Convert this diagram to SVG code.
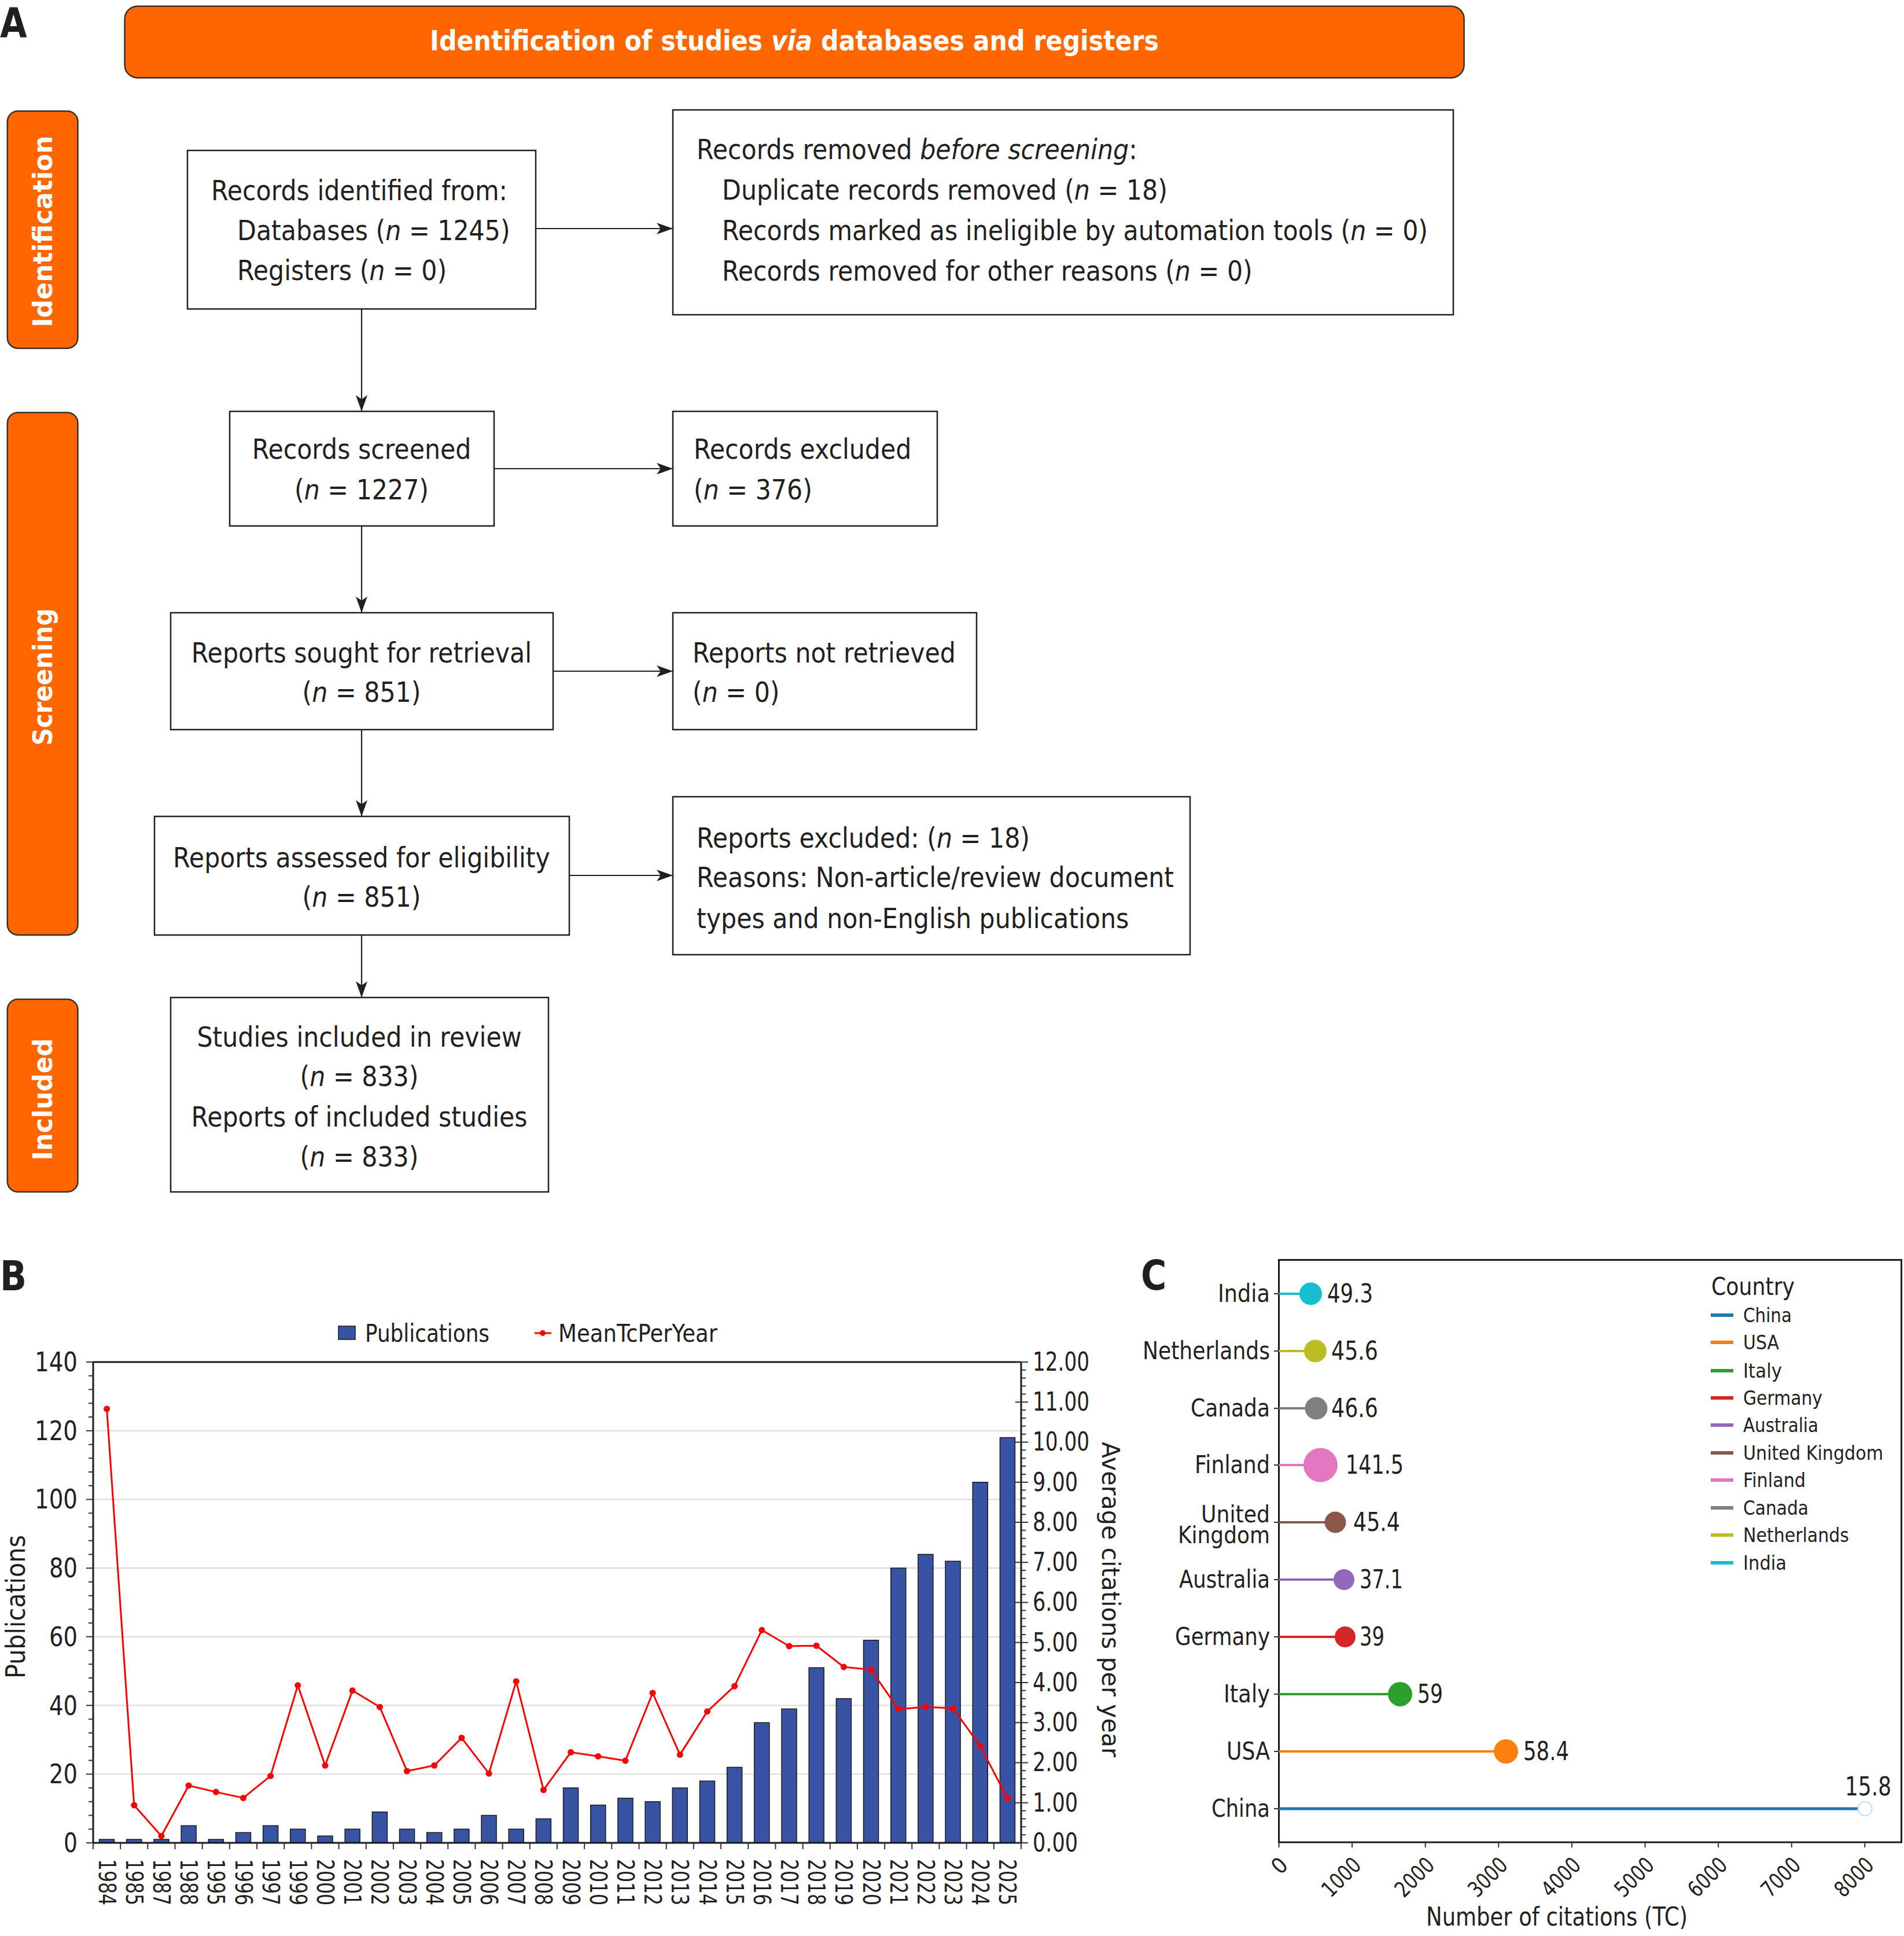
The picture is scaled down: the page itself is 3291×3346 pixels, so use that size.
<svg xmlns="http://www.w3.org/2000/svg" width="3291" height="3346" viewBox="0 0 3291 3346">
<defs>
<style>
.ft{font-family:"DejaVu Sans",Verdana,sans-serif;font-size:48px;fill:#231f20}
.it{font-style:italic}
.hdr{font-family:"DejaVu Sans",Verdana,sans-serif;font-size:48px;font-weight:bold;fill:#fff}
.side{font-family:"DejaVu Sans",Verdana,sans-serif;font-size:46px;font-weight:bold;fill:#fff}
.box{fill:#fff;stroke:#231f20;stroke-width:2.5}
.orange{fill:#ff6600;stroke:#3a2f2a;stroke-width:2.5}
.conn{stroke:#231f20;stroke-width:2.2;fill:none;marker-end:url(#ah)}
.lbl{font-family:"DejaVu Sans",Verdana,sans-serif;font-weight:bold;fill:#231f20;font-size:72px}
.ct{font-family:"DejaVu Sans",Verdana,sans-serif;fill:#231f20}
.bar{fill:#3953a4;stroke:#1a1a1a;stroke-width:1.5}
.grid{stroke:#d9d9d9;stroke-width:2}
.ax{stroke:#1a1a1a;stroke-width:3;fill:none}
.tk{stroke:#333;stroke-width:2;fill:none}
.dot{fill:#ff0000}
</style>
<marker id="ah" markerWidth="28" markerHeight="20" refX="28" refY="10" orient="auto" markerUnits="userSpaceOnUse"><path d="M0,0 L28,10 L0,20 L7,10 z" fill="#231f20"/></marker>
</defs>
<rect width="3291" height="3346" fill="#fff"/>

<!-- Panel A -->
<text class="lbl" transform="translate(0,64) scale(.84,1)">A</text>
<g id="header">
<rect class="orange" x="215.6" y="10.7" width="2315" height="123.7" rx="22"/>
<text class="hdr" text-anchor="middle" transform="translate(1373,87) scale(.89,1)">Identification of studies <tspan class="it">via</tspan> databases and registers</text>
</g>
<g id="side-identification">
<rect class="orange" x="12.8" y="192" width="121.7" height="410" rx="18"/>
<text class="side" text-anchor="middle" transform="translate(90,400) rotate(-90)" textLength="331" lengthAdjust="spacingAndGlyphs">Identification</text>
</g>
<g id="side-screening">
<rect class="orange" x="12.8" y="713" width="121.7" height="903" rx="18"/>
<text class="side" text-anchor="middle" transform="translate(90,1170) rotate(-90)" textLength="237" lengthAdjust="spacingAndGlyphs">Screening</text>
</g>
<g id="side-included">
<rect class="orange" x="12.8" y="1727" width="121.7" height="333" rx="18"/>
<text class="side" text-anchor="middle" transform="translate(90,1900) rotate(-90)" textLength="211" lengthAdjust="spacingAndGlyphs">Included</text>
</g>

<g id="records-identified">
<rect class="box" x="324" y="260" width="602" height="274"/>
<text class="ft" transform="translate(365,346) scale(.89,1)">Records identified from:</text>
<text class="ft" transform="translate(410,415) scale(.89,1)">Databases (<tspan class="it">n</tspan> = 1245)</text>
<text class="ft" transform="translate(410,484) scale(.89,1)">Registers (<tspan class="it">n</tspan> = 0)</text>
</g>
<g id="records-removed">
<rect class="box" x="1163" y="190" width="1349" height="354"/>
<text class="ft" transform="translate(1204,275) scale(.89,1)">Records removed <tspan class="it">before screening</tspan>:</text>
<text class="ft" transform="translate(1248,345) scale(.89,1)">Duplicate records removed (<tspan class="it">n</tspan> = 18)</text>
<text class="ft" transform="translate(1248,415) scale(.89,1)">Records marked as ineligible by automation tools (<tspan class="it">n</tspan> = 0)</text>
<text class="ft" transform="translate(1248,485) scale(.89,1)">Records removed for other reasons (<tspan class="it">n</tspan> = 0)</text>
</g>
<g id="records-screened">
<rect class="box" x="397" y="711" width="457" height="198"/>
<text class="ft" text-anchor="middle" transform="translate(625,793) scale(.89,1)">Records screened</text>
<text class="ft" text-anchor="middle" transform="translate(625,863) scale(.89,1)">(<tspan class="it">n</tspan> = 1227)</text>
</g>
<g id="records-excluded">
<rect class="box" x="1163" y="711" width="457" height="198"/>
<text class="ft" transform="translate(1199,793) scale(.89,1)">Records excluded</text>
<text class="ft" transform="translate(1199,863) scale(.89,1)">(<tspan class="it">n</tspan> = 376)</text>
</g>
<g id="reports-sought">
<rect class="box" x="295" y="1059" width="661" height="202"/>
<text class="ft" text-anchor="middle" transform="translate(625,1145) scale(.89,1)">Reports sought for retrieval</text>
<text class="ft" text-anchor="middle" transform="translate(625,1213) scale(.89,1)">(<tspan class="it">n</tspan> = 851)</text>
</g>
<g id="reports-not-retrieved">
<rect class="box" x="1163" y="1059" width="525" height="202"/>
<text class="ft" transform="translate(1197,1145) scale(.89,1)">Reports not retrieved</text>
<text class="ft" transform="translate(1197,1213) scale(.89,1)">(<tspan class="it">n</tspan> = 0)</text>
</g>
<g id="reports-assessed">
<rect class="box" x="267" y="1411" width="717" height="205"/>
<text class="ft" text-anchor="middle" transform="translate(625,1499) scale(.89,1)">Reports assessed for eligibility</text>
<text class="ft" text-anchor="middle" transform="translate(625,1567) scale(.89,1)">(<tspan class="it">n</tspan> = 851)</text>
</g>
<g id="reports-excluded">
<rect class="box" x="1163" y="1377" width="894" height="273"/>
<text class="ft" transform="translate(1204,1465) scale(.89,1)">Reports excluded: (<tspan class="it">n</tspan> = 18)</text>
<text class="ft" transform="translate(1204,1533) scale(.89,1)">Reasons: Non-article/review document</text>
<text class="ft" transform="translate(1204,1604) scale(.89,1)">types and non-English publications</text>
</g>
<g id="studies-included">
<rect class="box" x="295" y="1724" width="653" height="336"/>
<text class="ft" text-anchor="middle" transform="translate(621,1809) scale(.89,1)">Studies included in review</text>
<text class="ft" text-anchor="middle" transform="translate(621,1877) scale(.89,1)">(<tspan class="it">n</tspan> = 833)</text>
<text class="ft" text-anchor="middle" transform="translate(621,1947) scale(.89,1)">Reports of included studies</text>
<text class="ft" text-anchor="middle" transform="translate(621,2016) scale(.89,1)">(<tspan class="it">n</tspan> = 833)</text>
</g>
<g id="connectors">
<line class="conn" x1="625" y1="534" x2="625" y2="711"/>
<line class="conn" x1="625" y1="909" x2="625" y2="1059"/>
<line class="conn" x1="625" y1="1261" x2="625" y2="1411"/>
<line class="conn" x1="625" y1="1616" x2="625" y2="1724"/>
<line class="conn" x1="926" y1="395" x2="1163" y2="395"/>
<line class="conn" x1="854" y1="810" x2="1163" y2="810"/>
<line class="conn" x1="956" y1="1160" x2="1163" y2="1160"/>
<line class="conn" x1="984" y1="1513" x2="1163" y2="1513"/>
</g>

<!-- Panel B -->
<g id="panel-b">
<text class="lbl" transform="translate(0,2230) scale(.84,1)">B</text>
<g id="legend-b">
<rect class="bar" x="585" y="2292" width="29" height="23"/>
<text class="ct" font-size="42" x="631" y="2319" textLength="215" lengthAdjust="spacingAndGlyphs">Publications</text>
<line x1="924" y1="2304" x2="953" y2="2304" stroke="#ff0000" stroke-width="3"/>
<circle class="dot" cx="938" cy="2304" r="5"/>
<text class="ct" font-size="42" x="965" y="2319" textLength="275" lengthAdjust="spacingAndGlyphs">MeanTcPerYear</text>
</g>
<g id="grid-b">
<line class="grid" x1="161" y1="3066.3" x2="1765" y2="3066.3"/>
<line class="grid" x1="161" y1="2947.6" x2="1765" y2="2947.6"/>
<line class="grid" x1="161" y1="2828.9" x2="1765" y2="2828.9"/>
<line class="grid" x1="161" y1="2710.1" x2="1765" y2="2710.1"/>
<line class="grid" x1="161" y1="2591.4" x2="1765" y2="2591.4"/>
<line class="grid" x1="161" y1="2472.7" x2="1765" y2="2472.7"/>
</g>
<g id="bars">
<rect class="bar" x="171.59" y="3179.06" width="26" height="5.94"/>
<rect class="bar" x="218.76" y="3179.06" width="26" height="5.94"/>
<rect class="bar" x="265.94" y="3179.06" width="26" height="5.94"/>
<rect class="bar" x="313.12" y="3155.32" width="26" height="29.68"/>
<rect class="bar" x="360.29" y="3179.06" width="26" height="5.94"/>
<rect class="bar" x="407.47" y="3167.19" width="26" height="17.81"/>
<rect class="bar" x="454.65" y="3155.32" width="26" height="29.68"/>
<rect class="bar" x="501.82" y="3161.26" width="26" height="23.74"/>
<rect class="bar" x="549.00" y="3173.13" width="26" height="11.87"/>
<rect class="bar" x="596.18" y="3161.26" width="26" height="23.74"/>
<rect class="bar" x="643.35" y="3131.58" width="26" height="53.42"/>
<rect class="bar" x="690.53" y="3161.26" width="26" height="23.74"/>
<rect class="bar" x="737.71" y="3167.19" width="26" height="17.81"/>
<rect class="bar" x="784.88" y="3161.26" width="26" height="23.74"/>
<rect class="bar" x="832.06" y="3137.51" width="26" height="47.49"/>
<rect class="bar" x="879.24" y="3161.26" width="26" height="23.74"/>
<rect class="bar" x="926.41" y="3143.45" width="26" height="41.55"/>
<rect class="bar" x="973.59" y="3090.03" width="26" height="94.97"/>
<rect class="bar" x="1020.76" y="3119.71" width="26" height="65.29"/>
<rect class="bar" x="1067.94" y="3107.84" width="26" height="77.16"/>
<rect class="bar" x="1115.12" y="3113.77" width="26" height="71.23"/>
<rect class="bar" x="1162.29" y="3090.03" width="26" height="94.97"/>
<rect class="bar" x="1209.47" y="3078.16" width="26" height="106.84"/>
<rect class="bar" x="1256.65" y="3054.41" width="26" height="130.59"/>
<rect class="bar" x="1303.82" y="2977.25" width="26" height="207.75"/>
<rect class="bar" x="1351.00" y="2953.51" width="26" height="231.49"/>
<rect class="bar" x="1398.18" y="2882.28" width="26" height="302.72"/>
<rect class="bar" x="1445.35" y="2935.70" width="26" height="249.30"/>
<rect class="bar" x="1492.53" y="2834.79" width="26" height="350.21"/>
<rect class="bar" x="1539.71" y="2710.14" width="26" height="474.86"/>
<rect class="bar" x="1586.88" y="2686.40" width="26" height="498.60"/>
<rect class="bar" x="1634.06" y="2698.27" width="26" height="486.73"/>
<rect class="bar" x="1681.24" y="2561.75" width="26" height="623.25"/>
<rect class="bar" x="1728.41" y="2484.59" width="26" height="700.41"/>
</g>
<g id="mean-line">
<polyline fill="none" stroke="#ff0000" stroke-width="3" stroke-linejoin="round" points="184.6,2435.0 231.8,3119.9 278.9,3173.2 326.1,3086.0 373.3,3097.1 420.5,3107.4 467.6,3069.4 514.8,2912.8 562.0,3051.3 609.2,2921.8 656.4,2950.2 703.5,3061.0 750.7,3051.3 797.9,3003.6 845.1,3065.2 892.2,2905.9 939.4,3093.6 986.6,3028.5 1033.8,3035.4 1080.9,3043.0 1128.1,2926.0 1175.3,3032.6 1222.5,2957.9 1269.6,2914.2 1316.8,2817.3 1364.0,2845.0 1411.2,2844.3 1458.4,2881.0 1505.5,2885.8 1552.7,2953.7 1599.9,2950.2 1647.1,2952.3 1694.2,3017.4 1741.4,3108.1"/>
<g class="dot">
<circle cx="184.6" cy="2435.0" r="5.5"/><circle cx="231.8" cy="3119.9" r="5.5"/><circle cx="278.9" cy="3173.2" r="5.5"/><circle cx="326.1" cy="3086.0" r="5.5"/><circle cx="373.3" cy="3097.1" r="5.5"/><circle cx="420.5" cy="3107.4" r="5.5"/><circle cx="467.6" cy="3069.4" r="5.5"/><circle cx="514.8" cy="2912.8" r="5.5"/><circle cx="562.0" cy="3051.3" r="5.5"/><circle cx="609.2" cy="2921.8" r="5.5"/><circle cx="656.4" cy="2950.2" r="5.5"/><circle cx="703.5" cy="3061.0" r="5.5"/><circle cx="750.7" cy="3051.3" r="5.5"/><circle cx="797.9" cy="3003.6" r="5.5"/><circle cx="845.1" cy="3065.2" r="5.5"/><circle cx="892.2" cy="2905.9" r="5.5"/><circle cx="939.4" cy="3093.6" r="5.5"/><circle cx="986.6" cy="3028.5" r="5.5"/><circle cx="1033.8" cy="3035.4" r="5.5"/><circle cx="1080.9" cy="3043.0" r="5.5"/><circle cx="1128.1" cy="2926.0" r="5.5"/><circle cx="1175.3" cy="3032.6" r="5.5"/><circle cx="1222.5" cy="2957.9" r="5.5"/><circle cx="1269.6" cy="2914.2" r="5.5"/><circle cx="1316.8" cy="2817.3" r="5.5"/><circle cx="1364.0" cy="2845.0" r="5.5"/><circle cx="1411.2" cy="2844.3" r="5.5"/><circle cx="1458.4" cy="2881.0" r="5.5"/><circle cx="1505.5" cy="2885.8" r="5.5"/><circle cx="1552.7" cy="2953.7" r="5.5"/><circle cx="1599.9" cy="2950.2" r="5.5"/><circle cx="1647.1" cy="2952.3" r="5.5"/><circle cx="1694.2" cy="3017.4" r="5.5"/><circle cx="1741.4" cy="3108.1" r="5.5"/>
</g>
</g>
<g id="axes-b">
<path class="ax" d="M161,2354 H1765 M161,2354 V3185 H1765 M1765,2354 V3185"/>
<path class="tk" d="M149,3185H161M153,3161.26H161M153,3137.51H161M153,3113.77H161M153,3090.03H161M149,3066.29H161M153,3042.54H161M153,3018.8H161M153,2995.06H161M153,2971.31H161M149,2947.57H161M153,2923.83H161M153,2900.09H161M153,2876.34H161M153,2852.6H161M149,2828.86H161M153,2805.11H161M153,2781.37H161M153,2757.63H161M153,2733.89H161M149,2710.14H161M153,2686.4H161M153,2662.66H161M153,2638.91H161M153,2615.17H161M149,2591.43H161M153,2567.69H161M153,2543.94H161M153,2520.2H161M153,2496.46H161M149,2472.71H161M153,2448.97H161M153,2425.23H161M153,2401.49H161M153,2377.74H161M149,2354H161"/>
<path class="tk" d="M1755,3185H1777M1765,3171.15H1773M1765,3157.3H1773M1765,3143.45H1773M1765,3129.6H1773M1755,3115.75H1777M1765,3101.9H1773M1765,3088.05H1773M1765,3074.2H1773M1765,3060.35H1773M1755,3046.5H1777M1765,3032.65H1773M1765,3018.8H1773M1765,3004.95H1773M1765,2991.1H1773M1755,2977.25H1777M1765,2963.4H1773M1765,2949.55H1773M1765,2935.7H1773M1765,2921.85H1773M1755,2908H1777M1765,2894.15H1773M1765,2880.3H1773M1765,2866.45H1773M1765,2852.6H1773M1755,2838.75H1777M1765,2824.9H1773M1765,2811.05H1773M1765,2797.2H1773M1765,2783.35H1773M1755,2769.5H1777M1765,2755.65H1773M1765,2741.8H1773M1765,2727.95H1773M1765,2714.1H1773M1755,2700.25H1777M1765,2686.4H1773M1765,2672.55H1773M1765,2658.7H1773M1765,2644.85H1773M1755,2631H1777M1765,2617.15H1773M1765,2603.3H1773M1765,2589.45H1773M1765,2575.6H1773M1755,2561.75H1777M1765,2547.9H1773M1765,2534.05H1773M1765,2520.2H1773M1765,2506.35H1773M1755,2492.5H1777M1765,2478.65H1773M1765,2464.8H1773M1765,2450.95H1773M1765,2437.1H1773M1755,2423.25H1777M1765,2409.4H1773M1765,2395.55H1773M1765,2381.7H1773M1765,2367.85H1773M1755,2354H1777"/>
<path class="tk" d="M161,3185V3196M208.18,3185V3196M255.35,3185V3196M302.53,3185V3196M349.71,3185V3196M396.88,3185V3196M444.06,3185V3196M491.24,3185V3196M538.41,3185V3196M585.59,3185V3196M632.76,3185V3196M679.94,3185V3196M727.12,3185V3196M774.29,3185V3196M821.47,3185V3196M868.65,3185V3196M915.82,3185V3196M963,3185V3196M1010.18,3185V3196M1057.35,3185V3196M1104.53,3185V3196M1151.71,3185V3196M1198.88,3185V3196M1246.06,3185V3196M1293.24,3185V3196M1340.41,3185V3196M1387.59,3185V3196M1434.76,3185V3196M1481.94,3185V3196M1529.12,3185V3196M1576.29,3185V3196M1623.47,3185V3196M1670.65,3185V3196M1717.82,3185V3196M1765,3185V3196"/>
</g>
<g id="ylabels-left" class="ct" font-size="46" text-anchor="end">
<text x="134" y="3201" textLength="24" lengthAdjust="spacingAndGlyphs">0</text>
<text x="134" y="3082" textLength="49" lengthAdjust="spacingAndGlyphs">20</text>
<text x="134" y="2964" textLength="49" lengthAdjust="spacingAndGlyphs">40</text>
<text x="134" y="2845" textLength="49" lengthAdjust="spacingAndGlyphs">60</text>
<text x="134" y="2726" textLength="49" lengthAdjust="spacingAndGlyphs">80</text>
<text x="134" y="2607" textLength="74" lengthAdjust="spacingAndGlyphs">100</text>
<text x="134" y="2489" textLength="74" lengthAdjust="spacingAndGlyphs">120</text>
<text x="134" y="2370" textLength="74" lengthAdjust="spacingAndGlyphs">140</text>
</g>
<g id="ylabels-right" class="ct" font-size="44">
<text x="1785" y="2369" textLength="98" lengthAdjust="spacingAndGlyphs">12.00</text>
<text x="1785" y="2438" textLength="98" lengthAdjust="spacingAndGlyphs">11.00</text>
<text x="1785" y="2507" textLength="98" lengthAdjust="spacingAndGlyphs">10.00</text>
<text x="1785" y="2577" textLength="78" lengthAdjust="spacingAndGlyphs">9.00</text>
<text x="1785" y="2646" textLength="78" lengthAdjust="spacingAndGlyphs">8.00</text>
<text x="1785" y="2715" textLength="78" lengthAdjust="spacingAndGlyphs">7.00</text>
<text x="1785" y="2784" textLength="78" lengthAdjust="spacingAndGlyphs">6.00</text>
<text x="1785" y="2854" textLength="78" lengthAdjust="spacingAndGlyphs">5.00</text>
<text x="1785" y="2923" textLength="78" lengthAdjust="spacingAndGlyphs">4.00</text>
<text x="1785" y="2992" textLength="78" lengthAdjust="spacingAndGlyphs">3.00</text>
<text x="1785" y="3061" textLength="78" lengthAdjust="spacingAndGlyphs">2.00</text>
<text x="1785" y="3131" textLength="78" lengthAdjust="spacingAndGlyphs">1.00</text>
<text x="1785" y="3200" textLength="78" lengthAdjust="spacingAndGlyphs">0.00</text>
</g>
<text class="ct" font-size="46" transform="translate(43,2901) rotate(-90)" textLength="248" lengthAdjust="spacingAndGlyphs">Publications</text>
<text class="ct" font-size="42" transform="translate(1905,2492) rotate(90)" textLength="545" lengthAdjust="spacingAndGlyphs">Average citations per year</text>
<g id="xlabels-b" class="ct" font-size="40">
<text transform="translate(170.6,3213) rotate(90)" textLength="80" lengthAdjust="spacingAndGlyphs">1984</text>
<text transform="translate(217.8,3213) rotate(90)" textLength="80" lengthAdjust="spacingAndGlyphs">1985</text>
<text transform="translate(264.9,3213) rotate(90)" textLength="80" lengthAdjust="spacingAndGlyphs">1987</text>
<text transform="translate(312.1,3213) rotate(90)" textLength="80" lengthAdjust="spacingAndGlyphs">1988</text>
<text transform="translate(359.3,3213) rotate(90)" textLength="80" lengthAdjust="spacingAndGlyphs">1995</text>
<text transform="translate(406.5,3213) rotate(90)" textLength="80" lengthAdjust="spacingAndGlyphs">1996</text>
<text transform="translate(453.6,3213) rotate(90)" textLength="80" lengthAdjust="spacingAndGlyphs">1997</text>
<text transform="translate(500.8,3213) rotate(90)" textLength="80" lengthAdjust="spacingAndGlyphs">1999</text>
<text transform="translate(548.0,3213) rotate(90)" textLength="80" lengthAdjust="spacingAndGlyphs">2000</text>
<text transform="translate(595.2,3213) rotate(90)" textLength="80" lengthAdjust="spacingAndGlyphs">2001</text>
<text transform="translate(642.4,3213) rotate(90)" textLength="80" lengthAdjust="spacingAndGlyphs">2002</text>
<text transform="translate(689.5,3213) rotate(90)" textLength="80" lengthAdjust="spacingAndGlyphs">2003</text>
<text transform="translate(736.7,3213) rotate(90)" textLength="80" lengthAdjust="spacingAndGlyphs">2004</text>
<text transform="translate(783.9,3213) rotate(90)" textLength="80" lengthAdjust="spacingAndGlyphs">2005</text>
<text transform="translate(831.1,3213) rotate(90)" textLength="80" lengthAdjust="spacingAndGlyphs">2006</text>
<text transform="translate(878.2,3213) rotate(90)" textLength="80" lengthAdjust="spacingAndGlyphs">2007</text>
<text transform="translate(925.4,3213) rotate(90)" textLength="80" lengthAdjust="spacingAndGlyphs">2008</text>
<text transform="translate(972.6,3213) rotate(90)" textLength="80" lengthAdjust="spacingAndGlyphs">2009</text>
<text transform="translate(1019.8,3213) rotate(90)" textLength="80" lengthAdjust="spacingAndGlyphs">2010</text>
<text transform="translate(1066.9,3213) rotate(90)" textLength="80" lengthAdjust="spacingAndGlyphs">2011</text>
<text transform="translate(1114.1,3213) rotate(90)" textLength="80" lengthAdjust="spacingAndGlyphs">2012</text>
<text transform="translate(1161.3,3213) rotate(90)" textLength="80" lengthAdjust="spacingAndGlyphs">2013</text>
<text transform="translate(1208.5,3213) rotate(90)" textLength="80" lengthAdjust="spacingAndGlyphs">2014</text>
<text transform="translate(1255.6,3213) rotate(90)" textLength="80" lengthAdjust="spacingAndGlyphs">2015</text>
<text transform="translate(1302.8,3213) rotate(90)" textLength="80" lengthAdjust="spacingAndGlyphs">2016</text>
<text transform="translate(1350.0,3213) rotate(90)" textLength="80" lengthAdjust="spacingAndGlyphs">2017</text>
<text transform="translate(1397.2,3213) rotate(90)" textLength="80" lengthAdjust="spacingAndGlyphs">2018</text>
<text transform="translate(1444.4,3213) rotate(90)" textLength="80" lengthAdjust="spacingAndGlyphs">2019</text>
<text transform="translate(1491.5,3213) rotate(90)" textLength="80" lengthAdjust="spacingAndGlyphs">2020</text>
<text transform="translate(1538.7,3213) rotate(90)" textLength="80" lengthAdjust="spacingAndGlyphs">2021</text>
<text transform="translate(1585.9,3213) rotate(90)" textLength="80" lengthAdjust="spacingAndGlyphs">2022</text>
<text transform="translate(1633.1,3213) rotate(90)" textLength="80" lengthAdjust="spacingAndGlyphs">2023</text>
<text transform="translate(1680.2,3213) rotate(90)" textLength="80" lengthAdjust="spacingAndGlyphs">2024</text>
<text transform="translate(1727.4,3213) rotate(90)" textLength="80" lengthAdjust="spacingAndGlyphs">2025</text>
</g>
</g>

<!-- Panel C -->
<g id="panel-c">
<text class="lbl" transform="translate(1972,2229) scale(.84,1)">C</text>
<rect x="2210.5" y="2177.5" width="1076" height="1006.5" fill="none" stroke="#1a1a1a" stroke-width="3"/>
<path class="tk" d="M2202,2236H2210.5M2202,2335H2210.5M2202,2434H2210.5M2202,2532H2210.5M2202,2631H2210.5M2202,2730H2210.5M2202,2829H2210.5M2202,2928H2210.5M2202,3027H2210.5M2202,3126H2210.5 M2210.5,3184V3193M2337.1,3184V3193M2463.7,3184V3193M2590.3,3184V3193M2716.9,3184V3193M2843.5,3184V3193M2970.1,3184V3193M3096.7,3184V3193M3223.3,3184V3193"/>
<g id="lollipop-india"><line x1="2210.5" y1="2236" x2="2265.5" y2="2236" stroke="#17becf" stroke-width="4"/><circle cx="2265.5" cy="2236" r="19.5" fill="#17becf"/></g>
<g id="lollipop-netherlands"><line x1="2210.5" y1="2335" x2="2273.5" y2="2335" stroke="#bcbd22" stroke-width="4"/><circle cx="2273.5" cy="2335" r="19.5" fill="#bcbd22"/></g>
<g id="lollipop-canada"><line x1="2210.5" y1="2434" x2="2275" y2="2434" stroke="#7f7f7f" stroke-width="4"/><circle cx="2275" cy="2434" r="19.5" fill="#7f7f7f"/></g>
<g id="lollipop-finland"><line x1="2210.5" y1="2532" x2="2282.5" y2="2532" stroke="#e377c2" stroke-width="4"/><circle cx="2282.5" cy="2532" r="29.5" fill="#e377c2"/></g>
<g id="lollipop-uk"><line x1="2210.5" y1="2631" x2="2308" y2="2631" stroke="#8c564b" stroke-width="4"/><circle cx="2308" cy="2631" r="18.5" fill="#8c564b"/></g>
<g id="lollipop-australia"><line x1="2210.5" y1="2730" x2="2323" y2="2730" stroke="#9467bd" stroke-width="4"/><circle cx="2323" cy="2730" r="18" fill="#9467bd"/></g>
<g id="lollipop-germany"><line x1="2210.5" y1="2829" x2="2325" y2="2829" stroke="#d62728" stroke-width="4"/><circle cx="2325" cy="2829" r="18" fill="#d62728"/></g>
<g id="lollipop-italy"><line x1="2210.5" y1="2928" x2="2420" y2="2928" stroke="#2ca02c" stroke-width="4"/><circle cx="2420" cy="2928" r="21" fill="#2ca02c"/></g>
<g id="lollipop-usa"><line x1="2210.5" y1="3027" x2="2603" y2="3027" stroke="#ff7f0e" stroke-width="4"/><circle cx="2603" cy="3027" r="21" fill="#ff7f0e"/></g>
<g id="lollipop-china"><line x1="2210.5" y1="3126" x2="3211" y2="3126" stroke="#1f77b4" stroke-width="5"/><circle cx="3223.5" cy="3126" r="12" fill="#fff" stroke="#c6dbef" stroke-width="2"/></g>
<g id="country-labels" class="ct" font-size="42" text-anchor="end">
<text x="2195" y="2250" textLength="90" lengthAdjust="spacingAndGlyphs">India</text>
<text x="2195" y="2349" textLength="220" lengthAdjust="spacingAndGlyphs">Netherlands</text>
<text x="2195" y="2448" textLength="137" lengthAdjust="spacingAndGlyphs">Canada</text>
<text x="2195" y="2546" textLength="130" lengthAdjust="spacingAndGlyphs">Finland</text>
<text x="2195" y="2631" font-size="40" textLength="119" lengthAdjust="spacingAndGlyphs">United</text>
<text x="2195" y="2667" font-size="40" textLength="159" lengthAdjust="spacingAndGlyphs">Kingdom</text>
<text x="2195" y="2744" textLength="157" lengthAdjust="spacingAndGlyphs">Australia</text>
<text x="2195" y="2843" textLength="164" lengthAdjust="spacingAndGlyphs">Germany</text>
<text x="2195" y="2942" textLength="80" lengthAdjust="spacingAndGlyphs">Italy</text>
<text x="2195" y="3041" textLength="75" lengthAdjust="spacingAndGlyphs">USA</text>
<text x="2195" y="3140" textLength="101" lengthAdjust="spacingAndGlyphs">China</text>
</g>
<g id="value-labels" class="ct" font-size="44">
<text x="2294" y="2251" textLength="79" lengthAdjust="spacingAndGlyphs">49.3</text>
<text x="2301" y="2350" textLength="81" lengthAdjust="spacingAndGlyphs">45.6</text>
<text x="2301" y="2449" textLength="81" lengthAdjust="spacingAndGlyphs">46.6</text>
<text x="2326" y="2547" textLength="100" lengthAdjust="spacingAndGlyphs">141.5</text>
<text x="2339" y="2646" textLength="81" lengthAdjust="spacingAndGlyphs">45.4</text>
<text x="2350" y="2745" textLength="75" lengthAdjust="spacingAndGlyphs">37.1</text>
<text x="2350" y="2844" textLength="43" lengthAdjust="spacingAndGlyphs">39</text>
<text x="2450" y="2943" textLength="44" lengthAdjust="spacingAndGlyphs">59</text>
<text x="2633" y="3042" textLength="79" lengthAdjust="spacingAndGlyphs">58.4</text>
<text x="3189" y="3103" textLength="80" lengthAdjust="spacingAndGlyphs">15.8</text>
</g>
<g id="xlabels-c" class="ct" font-size="38" text-anchor="end">
<text transform="translate(2228.5,3226) rotate(-45)" textLength="22" lengthAdjust="spacingAndGlyphs">0</text>
<text transform="translate(2355.1,3226) rotate(-45)" textLength="78" lengthAdjust="spacingAndGlyphs">1000</text>
<text transform="translate(2481.7,3226) rotate(-45)" textLength="78" lengthAdjust="spacingAndGlyphs">2000</text>
<text transform="translate(2608.3,3226) rotate(-45)" textLength="78" lengthAdjust="spacingAndGlyphs">3000</text>
<text transform="translate(2734.9,3226) rotate(-45)" textLength="78" lengthAdjust="spacingAndGlyphs">4000</text>
<text transform="translate(2861.5,3226) rotate(-45)" textLength="78" lengthAdjust="spacingAndGlyphs">5000</text>
<text transform="translate(2988.1,3226) rotate(-45)" textLength="78" lengthAdjust="spacingAndGlyphs">6000</text>
<text transform="translate(3114.7,3226) rotate(-45)" textLength="78" lengthAdjust="spacingAndGlyphs">7000</text>
<text transform="translate(3241.3,3226) rotate(-45)" textLength="78" lengthAdjust="spacingAndGlyphs">8000</text>
</g>
<text class="ct" font-size="44" x="2465" y="3328" textLength="452" lengthAdjust="spacingAndGlyphs">Number of citations (TC)</text>
<g id="legend-c">
<text class="ct" font-size="42" x="2958" y="2238" textLength="144" lengthAdjust="spacingAndGlyphs">Country</text>
<g stroke-width="6">
<line x1="2957" y1="2273" x2="2996" y2="2273" stroke="#1f77b4"/>
<line x1="2957" y1="2320" x2="2996" y2="2320" stroke="#ff7f0e"/>
<line x1="2957" y1="2369" x2="2996" y2="2369" stroke="#2ca02c"/>
<line x1="2957" y1="2416" x2="2996" y2="2416" stroke="#d62728"/>
<line x1="2957" y1="2463" x2="2996" y2="2463" stroke="#9467bd"/>
<line x1="2957" y1="2511" x2="2996" y2="2511" stroke="#8c564b"/>
<line x1="2957" y1="2558" x2="2996" y2="2558" stroke="#e377c2"/>
<line x1="2957" y1="2606" x2="2996" y2="2606" stroke="#7f7f7f"/>
<line x1="2957" y1="2653" x2="2996" y2="2653" stroke="#bcbd22"/>
<line x1="2957" y1="2701" x2="2996" y2="2701" stroke="#17becf"/>
</g>
<g class="ct" font-size="33">
<text x="3013" y="2285" textLength="84" lengthAdjust="spacingAndGlyphs">China</text>
<text x="3013" y="2332" textLength="62" lengthAdjust="spacingAndGlyphs">USA</text>
<text x="3013" y="2381" textLength="67" lengthAdjust="spacingAndGlyphs">Italy</text>
<text x="3013" y="2428" textLength="137" lengthAdjust="spacingAndGlyphs">Germany</text>
<text x="3013" y="2475" textLength="130" lengthAdjust="spacingAndGlyphs">Australia</text>
<text x="3013" y="2523" textLength="242" lengthAdjust="spacingAndGlyphs">United Kingdom</text>
<text x="3013" y="2570" textLength="108" lengthAdjust="spacingAndGlyphs">Finland</text>
<text x="3013" y="2618" textLength="113" lengthAdjust="spacingAndGlyphs">Canada</text>
<text x="3013" y="2665" textLength="183" lengthAdjust="spacingAndGlyphs">Netherlands</text>
<text x="3013" y="2713" textLength="75" lengthAdjust="spacingAndGlyphs">India</text>
</g>
</g>
</g>
</svg>
